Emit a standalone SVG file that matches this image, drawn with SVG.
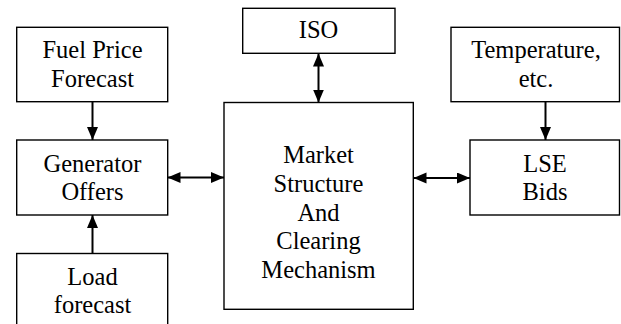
<svg xmlns="http://www.w3.org/2000/svg" width="621" height="324" viewBox="0 0 621 324">
<style>
.box{fill:#fff;stroke:#000;stroke-width:1.4}
.t{font-family:"Liberation Serif","Times New Roman",serif;font-size:24.5px;fill:#000;text-anchor:middle}
.c{stroke:#000;stroke-width:2;fill:none}
</style>
<defs>
<marker id="ah" markerUnits="userSpaceOnUse" markerWidth="14" markerHeight="12" refX="13" refY="5.5" orient="auto-start-reverse" viewBox="0 0 14 12">
<path d="M0,0 L13,5.5 L0,11 z" fill="#000"/>
</marker>
</defs>
<rect width="621" height="324" fill="#fff"/>
<g id="connectors">
<line class="c" x1="92.5" y1="101.5" x2="92.5" y2="140" marker-end="url(#ah)"/>
<line class="c" x1="92.5" y1="253.5" x2="92.5" y2="215" marker-end="url(#ah)"/>
<line class="c" x1="167.5" y1="177.5" x2="224" y2="177.5" marker-start="url(#ah)" marker-end="url(#ah)"/>
<line class="c" x1="318.5" y1="53.5" x2="318.5" y2="102.5" marker-start="url(#ah)" marker-end="url(#ah)"/>
<line class="c" x1="413.5" y1="178" x2="470" y2="178" marker-start="url(#ah)" marker-end="url(#ah)"/>
<line class="c" x1="545.5" y1="101.5" x2="545.5" y2="140" marker-end="url(#ah)"/>
</g>
<g id="fuel">
<rect class="box" x="16.7" y="27.3" width="151" height="74.4"/>
<text class="t" x="92.5" y="58.3">Fuel Price</text>
<text class="t" x="92.5" y="86.7">Forecast</text>
</g>
<g id="generator">
<rect class="box" x="16.7" y="140" width="151" height="75"/>
<text class="t" x="92.5" y="171.5">Generator</text>
<text class="t" x="92.5" y="199.5">Offers</text>
</g>
<g id="load">
<rect class="box" x="16.7" y="253.5" width="151" height="90"/>
<text class="t" x="92.5" y="285">Load</text>
<text class="t" x="92.5" y="313">forecast</text>
</g>
<g id="iso">
<rect class="box" x="242.7" y="8.3" width="152.3" height="45"/>
<text class="t" x="318.5" y="38.3">ISO</text>
</g>
<g id="market">
<rect class="box" x="224" y="102.5" width="189.3" height="206.8"/>
<text class="t" x="318.5" y="163.3">Market</text>
<text class="t" x="318.5" y="191.7">Structure</text>
<text class="t" x="318.5" y="220.5">And</text>
<text class="t" x="318.5" y="248.7">Clearing</text>
<text class="t" x="318.5" y="278.3">Mechanism</text>
</g>
<g id="temperature">
<rect class="box" x="451" y="27.3" width="168.5" height="74.4"/>
<text class="t" x="536" y="58.3">Temperature,</text>
<text class="t" x="536" y="87.3">etc.</text>
</g>
<g id="lse">
<rect class="box" x="470" y="140" width="149.5" height="75"/>
<text class="t" x="545" y="172.3">LSE</text>
<text class="t" x="545" y="200">Bids</text>
</g>
</svg>
